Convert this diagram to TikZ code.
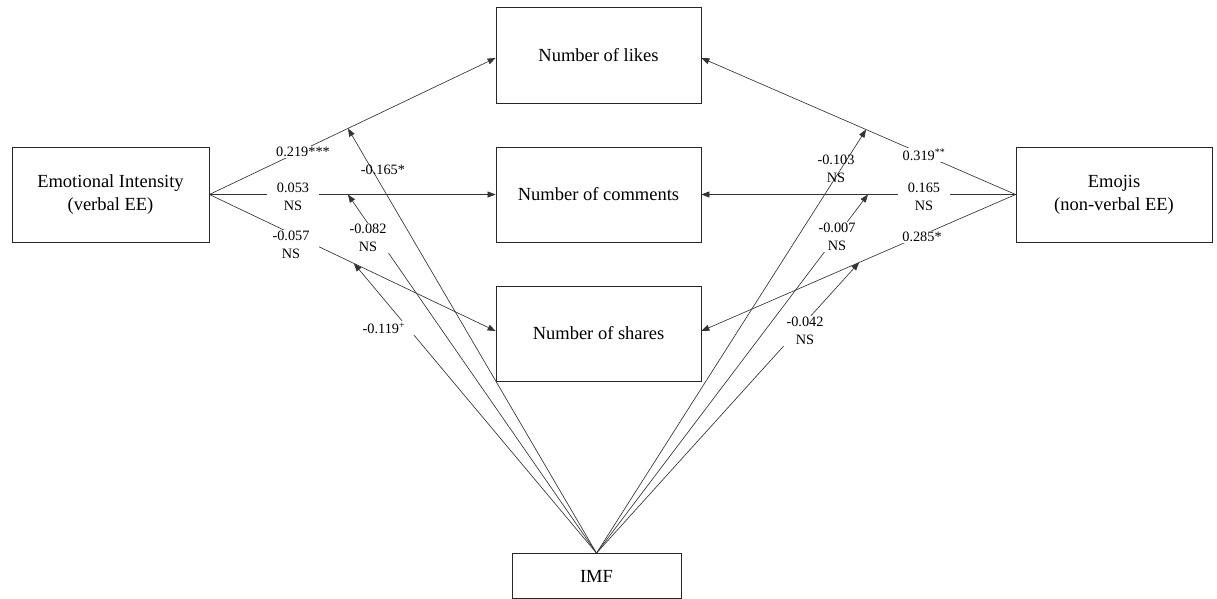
\documentclass[tikz,border=0pt]{standalone}
\usepackage{fontspec}
\setmainfont{Liberation Serif}
\usetikzlibrary{arrows.meta}
\begin{document}
\begin{tikzpicture}[x=1pt,y=-1pt,
  box/.style={draw=black!85, line width=0.8pt, align=center, inner sep=0pt,
    font=\fontsize{18.5}{23}\selectfont},
  conn/.style={draw=black!80, line width=0.65pt, -{Triangle[length=8pt,width=6pt]}},
  lbl/.style={font=\fontsize{14.3}{18}\selectfont, align=center, fill=white,
    inner xsep=10pt, inner ysep=1pt},
  lblo/.style={font=\fontsize{14.3}{18}\selectfont, align=center, inner sep=1pt}]
\useasboundingbox (0,0) rectangle (1217,599);
% boxes
\node[box, minimum width=205pt, minimum height=96pt] (likes) at (598.5,55) {Number of likes};
\node[box, minimum width=205pt, minimum height=95pt] (comments) at (598.5,194.5) {Number of comments};
\node[box, minimum width=205pt, minimum height=95pt] (shares) at (598.5,333.5) {Number of shares};
\node[box, minimum width=197pt, minimum height=95pt] (ei) at (110.5,194.5) {Emotional Intensity\\(verbal EE)};
\node[box, minimum width=196pt, minimum height=95pt] (emo) at (1114,194.5) {Emojis\\(non-verbal EE)};
\node[box, minimum width=169pt, minimum height=45pt] (imf) at (596.5,576) {IMF};
% main paths
\draw[conn] (ei.east) -- ([yshift=-3pt]likes.west) coordinate[pos=0.484] (m1);
\draw[conn] (ei.east) -- (comments.west) coordinate[pos=0.484] (m2);
\draw[conn] (ei.east) -- ([yshift=2.5pt]shares.west) coordinate[pos=0.505] (m3);
\draw[conn] (emo.west) -- ([yshift=-3pt]likes.east) coordinate[pos=0.476] (m4);
\draw[conn] (emo.west) -- (comments.east) coordinate[pos=0.47] (m5);
\draw[conn] (emo.west) -- ([yshift=2.5pt]shares.east) coordinate[pos=0.498] (m6);
% moderation paths
\draw[conn] (imf.north) -- (m1);
\draw[conn] (imf.north) -- (m2);
\draw[conn] (imf.north) -- (m3);
\draw[conn] (imf.north) -- (m4);
\draw[conn] (imf.north) -- (m5);
\draw[conn] (imf.north) -- (m6);
% labels
\node[lbl] (l1) at (303,152) {0.219***};
\node[lbl] (l2) at (293,197) {0.053\\NS};
\node[lbl] (l3) at (291,245) {-0.057\\NS};
\node[lblo] (l4) at (383,170) {-0.165*};
\node[lbl] (l5) at (368,238) {-0.082\\NS};
\node[lbl] (l6) at (384,328) {-0.119\textsuperscript{+}};
\node[lbl] (r1) at (924,155) {0.319\textsuperscript{**}};
\node[lbl] (r2) at (924,197) {0.165\\NS};
\node[lbl] (r3) at (922,237) {0.285*};
\node[lblo] (r4) at (836,169) {-0.103\\NS};
\node[lbl] (r5) at (837,237) {-0.007\\NS};
\node[lbl] (r6) at (805,331) {-0.042\\NS};
\end{tikzpicture}
\end{document}
